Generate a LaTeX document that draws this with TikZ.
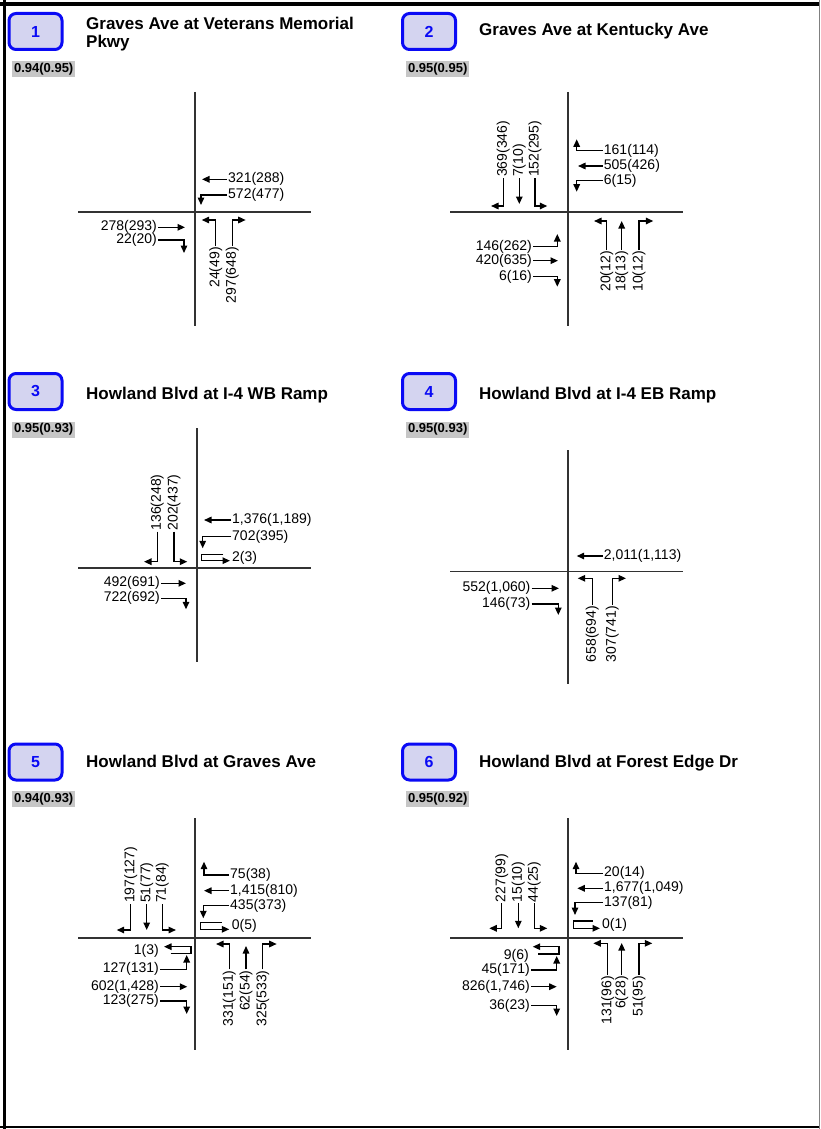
\documentclass[tikz,border=0pt]{standalone}
\usepackage{fontspec}
\setmainfont{Liberation Sans}
\usetikzlibrary{arrows.meta}
\definecolor{boxblue}{RGB}{10,10,245}
\definecolor{boxfill}{RGB}{212,212,240}
\definecolor{roadgray}{RGB}{50,50,50}
\definecolor{phfgray}{RGB}{198,198,198}
\tikzset{
  road/.style={draw=roadgray, line width=1.6pt},
  arr/.style={draw=black, line width=1.4pt, -{Triangle[length=7.5pt,width=6.5pt]}},
  lab/.style={font=\fontsize{14}{16}\selectfont, inner sep=1pt},
  vlab/.style={lab, rotate=90},
  numbox/.style={draw=boxblue, fill=boxfill, line width=3pt, rounded corners=7pt, minimum width=53pt, minimum height=36pt, text=boxblue, font=\fontsize{16}{18}\selectfont\bfseries, inner sep=0pt},
  ttl/.style={font=\fontsize{17}{18}\selectfont\bfseries, inner sep=0pt, anchor=base west},
  phf/.style={fill=phfgray, font=\fontsize{13}{14}\selectfont\bfseries, inner sep=0pt, minimum width=63pt, minimum height=16pt, anchor=west}
}
\begin{document}
\begin{tikzpicture}[x=1pt,y=-1pt]
\useasboundingbox (0,0) rectangle (820,1129);
% frame
\draw[line width=4pt] (0,4) -- (820,4);
\draw[line width=3pt] (4,0) -- (4,1129);
\draw[line width=2pt] (0,1127) -- (820,1127);
\draw[line width=1pt, gray] (819.5,0) -- (819.5,1129);

% headers
\node[numbox] (b1) at (35.5,31.5) {1};
\node[ttl] (t1a) at (86,29.5) {Graves Ave at Veterans Memorial};
\node[ttl] (t1b) at (86,47.5) {Pkwy};
\node[phf] (f1) at (12,69) {0.94(0.95)};

\node[numbox] (b2) at (429,31.5) {2};
\node[ttl] (t2) at (479,36) {Graves Ave at Kentucky Ave};
\node[phf] (f2) at (406,69) {0.95(0.95)};

\node[numbox] (b3) at (35.5,391.5) {3};
\node[ttl] (t3) at (86,399.5) {Howland Blvd at I-4 WB Ramp};
\node[phf] (f3) at (12,429.5) {0.95(0.93)};

\node[numbox] (b4) at (429,391.5) {4};
\node[ttl] (t4) at (479,399.5) {Howland Blvd at I-4 EB Ramp};
\node[phf] (f4) at (406,429.5) {0.95(0.93)};

\node[numbox] (b5) at (35.5,762) {5};
\node[ttl] (t5) at (86,767.5) {Howland Blvd at Graves Ave};
\node[phf] (f5) at (12,799) {0.94(0.93)};

\node[numbox] (b6) at (429,762) {6};
\node[ttl] (t6) at (479,767.5) {Howland Blvd at Forest Edge Dr};
\node[phf] (f6) at (406,799) {0.95(0.92)};

% ---------- Panel 1 ----------
\draw[road] (195,92) -- (195,326);
\draw[road] (78,212) -- (311,212);
\node[lab,anchor=west] (p1wt) at (227,179.3) {321(288)};
\draw[arr] (p1wt.west) -- ++(-25,0);
\node[lab,anchor=west] (p1wr) at (227,195) {572(477)};
\draw[arr] (p1wr.west) -| ++(-26,10);
\node[lab,anchor=east] (p1et) at (158,227.3) {278(293)};
\draw[arr] (p1et.east) -- ++(27,0);
\node[lab,anchor=east] (p1er) at (158,240) {22(20)};
\draw[arr] (p1er.east) -| ++(26,13);
\node[vlab,anchor=east] (p1nl) at (215.7,246) {24(49)};
\draw[arr] (p1nl.east) |- ++(-14,-26);
\node[vlab,anchor=east] (p1nr) at (232.3,246) {297(648)};
\draw[arr] (p1nr.east) |- ++(13.4,-26);

% ---------- Panel 2 ----------
\draw[road] (567.7,92) -- (567.7,326);
\draw[road] (450,211.7) -- (683,211.7);
\node[vlab,anchor=west] (p2sr) at (503.3,178) {369(346)};
\draw[arr] (p2sr.west) |- ++(-12.3,28);
\node[vlab,anchor=west] (p2st) at (519.3,178) {7(10)};
\draw[arr] (p2st.west) -- ++(0,26);
\node[vlab,anchor=west] (p2sl) at (535,178) {152(295)};
\draw[arr] (p2sl.west) |- ++(12.3,28);
\node[lab,anchor=west] (p2wl) at (602.7,150.7) {161(114)};
\draw[arr] (p2wl.west) -| ++(-26,-11.4);
\node[lab,anchor=west] (p2wt) at (602.7,166) {505(426)};
\draw[arr] (p2wt.west) -- ++(-24.7,0);
\node[lab,anchor=west] (p2wr) at (602.7,180.7) {6(15)};
\draw[arr] (p2wr.west) -| ++(-26,11);
\node[lab,anchor=east] (p2el) at (533,246.7) {146(262)};
\draw[arr] (p2el.east) -| ++(24.3,-12.7);
\node[lab,anchor=east] (p2et) at (533,260.7) {420(635)};
\draw[arr] (p2et.east) -- ++(25,0);
\node[lab,anchor=east] (p2er) at (533,276.7) {6(16)};
\draw[arr] (p2er.east) -| ++(24.3,10);
\node[vlab,anchor=east] (p2nl) at (606.7,250) {20(12)};
\draw[arr] (p2nl.east) |- ++(-12.7,-29);
\node[vlab,anchor=east] (p2nt) at (621.7,250) {18(13)};
\draw[arr] (p2nt.east) -- ++(0,-29);
\node[vlab,anchor=east] (p2nr) at (639,250) {10(12)};
\draw[arr] (p2nr.east) |- ++(14.3,-29);

% ---------- Panel 3 ----------
\draw[road] (196.7,428) -- (196.7,662);
\draw[road] (78,567.7) -- (311,567.7);
\node[vlab,anchor=west] (p3sr) at (157.3,531.7) {136(248)};
\draw[arr] (p3sr.west) |- ++(-13.3,30);
\node[vlab,anchor=west] (p3sl) at (174,531.7) {202(437)};
\draw[arr] (p3sl.west) |- ++(13.3,30);
\node[lab,anchor=west] (p3wt) at (231,520) {1,376(1,189)};
\draw[arr] (p3wt.west) -- ++(-27,0);
\node[lab,anchor=west] (p3wr) at (231,536.7) {702(395)};
\draw[arr] (p3wr.west) -| ++(-28.3,11.6);
\node[lab,anchor=west] (p3wu) at (231,558.3) {2(3)};
\draw[arr] (p3wu.west) ++(-7.7,-4) -- ++(-21.6,0) -- ++(0,6.4) -- ++(28.3,0);
\node[lab,anchor=east] (p3et) at (161,583.3) {492(691)};
\draw[arr] (p3et.east) -- ++(25,0);
\node[lab,anchor=east] (p3er) at (161,598.3) {722(692)};
\draw[arr] (p3er.east) -| ++(25,11);

% ---------- Panel 4 ----------
\draw[road] (567.7,450) -- (567.7,684);
\draw[road] (450,571.3) -- (683,571.3);
\node[lab,anchor=west] (p4wt) at (602.7,556) {2,011(1,113)};
\draw[arr] (p4wt.west) -- ++(-26,0);
\node[lab,anchor=east] (p4et) at (531.5,588.3) {552(1,060)};
\draw[arr] (p4et.east) -- ++(27.5,0);
\node[lab,anchor=east] (p4er) at (531.5,604) {146(73)};
\draw[arr] (p4er.east) -| ++(26.8,11);
\node[vlab,anchor=east] (p4nl) at (592.3,605) {658(694)};
\draw[arr] (p4nl.east) |- ++(-14.6,-26.7);
\node[vlab,anchor=east] (p4nr) at (612.3,605) {307(741)};
\draw[arr] (p4nr.east) |- ++(13.7,-26.7);

% ---------- Panel 5 ----------
\draw[road] (195,818) -- (195,1050);
\draw[road] (78,937.7) -- (311,937.7);
\node[vlab,anchor=west] (p5sr) at (130.7,904) {197(127)};
\draw[arr] (p5sr.west) |- ++(-14,26);
\node[vlab,anchor=west] (p5st) at (146.7,904) {51(77)};
\draw[arr] (p5st.west) -- ++(0,26);
\node[vlab,anchor=west] (p5sl) at (162.3,904) {71(84)};
\draw[arr] (p5sl.west) |- ++(13.7,26);
\node[lab,anchor=west] (p5wl) at (229,875) {75(38)};
\draw[arr] (p5wl.west) -| ++(-25,-13.3);
\node[lab,anchor=west] (p5wt) at (229,890.7) {1,415(810)};
\draw[arr] (p5wt.west) -- ++(-25,0);
\node[lab,anchor=west] (p5wr) at (229,905.7) {435(373)};
\draw[arr] (p5wr.west) -| ++(-25.7,12.6);
\node[lab,anchor=west] (p5wu) at (230.7,926) {0(5)};
\draw[arr] (p5wu.west) ++(-9,-3.7) -- ++(-21,0) -- ++(0,7) -- ++(28.6,0);
\node[lab,anchor=east] (p5eu) at (160,951) {1(3)};
\draw[arr] (p5eu.east) ++(10.7,2.3) -- ++(20.3,0) -- ++(0,-6.6) -- ++(-27,0);
\node[lab,anchor=east] (p5el) at (160,969.3) {127(131)};
\draw[arr] (p5el.east) -| ++(26.7,-14.3);
\node[lab,anchor=east] (p5et) at (160,986.7) {602(1,428)};
\draw[arr] (p5et.east) -- ++(27.3,0);
\node[lab,anchor=east] (p5er) at (160,1001) {123(275)};
\draw[arr] (p5er.east) -| ++(26.7,13);
\node[vlab,anchor=east] (p5nl) at (229.3,969.3) {331(151)};
\draw[arr] (p5nl.east) |- ++(-13.3,-25.3);
\node[vlab,anchor=east] (p5nt) at (246,969.3) {62(54)};
\draw[arr] (p5nt.east) -- ++(0,-23.3);
\node[vlab,anchor=east] (p5nr) at (262.7,969.3) {325(533)};
\draw[arr] (p5nr.east) |- ++(14,-25.3);

% ---------- Panel 6 ----------
\draw[road] (567.7,818) -- (567.7,1050);
\draw[road] (450,937.7) -- (683,937.7);
\node[vlab,anchor=west] (p6sr) at (501.7,903.3) {227(99)};
\draw[arr] (p6sr.west) |- ++(-12.4,25);
\node[vlab,anchor=west] (p6st) at (518.3,903.3) {15(10)};
\draw[arr] (p6st.west) -- ++(0,25);
\node[vlab,anchor=west] (p6sl) at (534.3,903.3) {44(25)};
\draw[arr] (p6sl.west) |- ++(13,25);
\node[lab,anchor=west] (p6wl) at (603,873.3) {20(14)};
\draw[arr] (p6wl.west) -| ++(-27,-11.6);
\node[lab,anchor=west] (p6wt) at (603,888.3) {1,677(1,049)};
\draw[arr] (p6wt.west) -- ++(-25.7,0);
\node[lab,anchor=west] (p6wr) at (603,902.7) {137(81)};
\draw[arr] (p6wr.west) -| ++(-28,12.3);
\node[lab,anchor=west] (p6wu) at (601,925) {0(1)};
\draw[arr] (p6wu.west) ++(-8.3,-4) -- ++(-19.4,0) -- ++(0,7.3) -- ++(26.7,0);
\node[lab,anchor=east] (p6eu) at (530,955.7) {9(6)};
\draw[arr] (p6eu.east) ++(8.3,-1.7) -- ++(20.7,0) -- ++(0,-7.3) -- ++(-26.3,0);
\node[lab,anchor=east] (p6el) at (531,970) {45(171)};
\draw[arr] (p6el.east) -| ++(25.7,-14);
\node[lab,anchor=east] (p6et) at (531,986.7) {826(1,746)};
\draw[arr] (p6et.east) -- ++(25.7,0);
\node[lab,anchor=east] (p6er) at (531,1005.7) {36(23)};
\draw[arr] (p6er.east) -| ++(25.7,10.3);
\node[vlab,anchor=east] (p6nl) at (607.7,975) {131(96)};
\draw[arr] (p6nl.east) |- ++(-14.4,-31.7);
\node[vlab,anchor=east] (p6nt) at (621.7,975) {6(28)};
\draw[arr] (p6nt.east) -- ++(0,-32);
\node[vlab,anchor=east] (p6nr) at (639,975) {51(95)};
\draw[arr] (p6nr.east) |- ++(13.3,-31.7);
\end{tikzpicture}
\end{document}
